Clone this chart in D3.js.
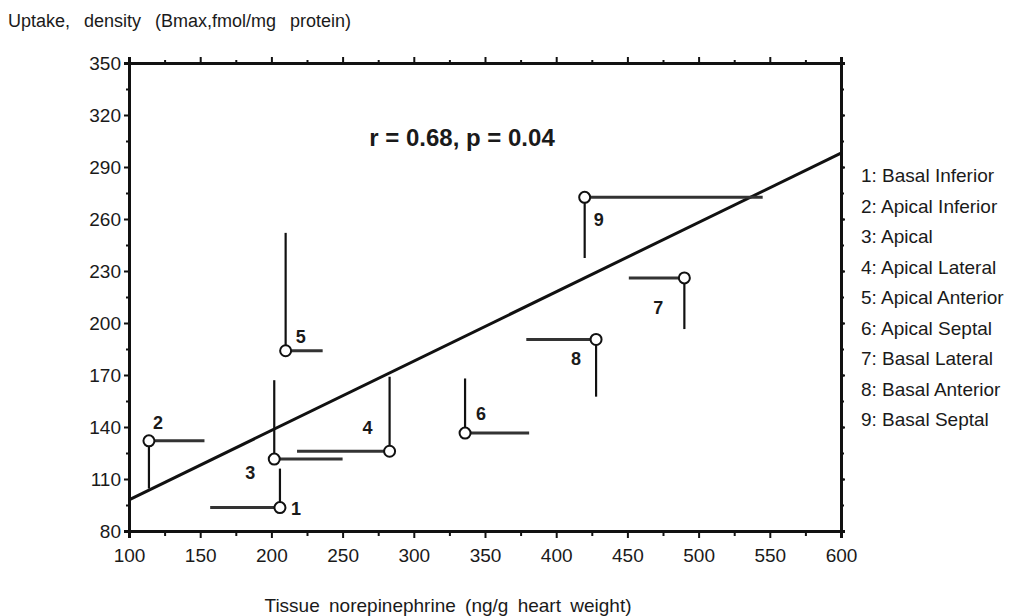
<!DOCTYPE html>
<html lang="en">
<head>
<meta charset="utf-8">
<script src="https://cdnjs.cloudflare.com/ajax/libs/d3/7.8.5/d3.min.js"></script>
<style>
body { margin: 0; background: #fff; }
svg text { font-family: "Liberation Sans", Arial, sans-serif; fill: #1a1a1a; }
</style>
</head>
<body>
<script>
// segment names, numbered 1..9
var segments = ["Basal Inferior", "Apical Inferior", "Apical", "Apical Lateral", "Apical Anterior",
                "Apical Septal", "Basal Lateral", "Basal Anterior", "Basal Septal"]
// tissue norepinephrine (ng/g)
var noreValues = [206, 114, 202, 283, 210, 336, 490, 428, 420]
// uptake density (fmol/mg)
var uptakeValues = [93.5, 132, 121.5, 126, 184, 136.5, 226, 190.5, 272.5]
// end of the one-sided error bars
var noreErrEnd = [157, 153, 250, 218, 236, 381, 451, 379, 545]
var uptakeErrEnd = [116, 104.5, 167, 169, 252, 168, 196.5, 157.5, 237.5]
// regression line end points
var fitX = [100, 600]
var fitY = [98, 298]
var xTicks = [100, 150, 200, 250, 300, 350, 400, 450, 500, 550, 600]
var yTicks = [80, 110, 140, 170, 200, 230, 260, 290, 320, 350]
var statText = "r = 0.68, p = 0.04"

// label offsets in px from the circle
var labelDx = [16, 9, -24, -22, 15, 16, -26, -20, 14]
var labelDy = [7, -12, 20, -17, -8, -13, 36, 26, 29]

var W = 1017, H = 616
var mLeft = 129, mRight = 841, mTop = 63, mBottom = 531

var svg = d3.select("body").append("svg")
    .attr("width", W)
    .attr("height", H)

var x = d3.scaleLinear().domain([100, 600]).range([mLeft, mRight])
var y = d3.scaleLinear().domain([80, 350]).range([mBottom, mTop])

function minor(lo, hi, step) {
    var out = []
    for (var v = lo; v <= hi + 1e-9; v += step) out.push(v)
    return out
}

// minor ticks
svg.append("g").attr("transform", "translate(0," + mBottom + ")")
    .call(d3.axisBottom(x).tickValues(minor(125, 575, 50)).tickSize(5).tickFormat(""))
svg.append("g").attr("transform", "translate(0," + mTop + ")")
    .call(d3.axisTop(x).tickValues(minor(125, 575, 50)).tickSize(3).tickFormat(""))
svg.append("g").attr("transform", "translate(" + mLeft + ",0)")
    .call(d3.axisLeft(y).tickValues(minor(95, 335, 30)).tickSize(3).tickFormat(""))
svg.append("g").attr("transform", "translate(" + mRight + ",0)")
    .call(d3.axisRight(y).tickValues(minor(95, 335, 15)).tickSize(3).tickFormat(""))

// major axes
var xAxis = svg.append("g").attr("transform", "translate(0," + mBottom + ")")
    .call(d3.axisBottom(x).tickValues(xTicks).tickSize(7).tickPadding(11).tickFormat(d3.format("d")))
var yAxis = svg.append("g").attr("transform", "translate(" + mLeft + ",0)")
    .call(d3.axisLeft(y).tickValues(yTicks).tickSize(5).tickPadding(3).tickFormat(d3.format("d")))
svg.append("g").attr("transform", "translate(0," + mTop + ")")
    .call(d3.axisTop(x).tickValues(xTicks).tickSize(6).tickFormat(""))
svg.append("g").attr("transform", "translate(" + mRight + ",0)")
    .call(d3.axisRight(y).tickValues(yTicks).tickSize(4).tickFormat(""))

svg.selectAll(".domain").attr("stroke", "#111").attr("stroke-width", 3)
svg.selectAll(".tick line").attr("stroke", "#111").attr("stroke-width", 2)
svg.selectAll(".tick text").attr("fill", "#1a1a1a")
    .style("font-family", "'Liberation Sans', Arial, sans-serif")
xAxis.selectAll(".tick text").attr("font-size", 19)
yAxis.selectAll(".tick text").attr("font-size", 19)

// axis titles
svg.append("text").attr("x", 8).attr("y", 27).attr("font-size", 18)
    .attr("word-spacing", 9)
    .text("Uptake, density (Bmax,fmol/mg  protein)")
svg.append("text").attr("x", 448).attr("y", 612)
    .attr("text-anchor", "middle").attr("font-size", 19)
    .attr("word-spacing", 4)
    .text("Tissue norepinephrine (ng/g  heart  weight)")

// regression line
svg.append("line")
    .attr("x1", x(fitX[0])).attr("y1", y(fitY[0]))
    .attr("x2", x(fitX[1])).attr("y2", y(fitY[1]))
    .attr("stroke", "#111").attr("stroke-width", 3)

var idx = d3.range(segments.length)

// horizontal error bars
svg.selectAll("line.xerr").data(idx).enter().append("line")
    .attr("class", "xerr")
    .attr("x1", function(i) { return x(noreValues[i]) })
    .attr("x2", function(i) { return x(noreErrEnd[i]) })
    .attr("y1", function(i) { return y(uptakeValues[i]) })
    .attr("y2", function(i) { return y(uptakeValues[i]) })
    .attr("stroke", "#333").attr("stroke-width", 3)

// vertical error bars
svg.selectAll("line.yerr").data(idx).enter().append("line")
    .attr("class", "yerr")
    .attr("x1", function(i) { return x(noreValues[i]) })
    .attr("x2", function(i) { return x(noreValues[i]) })
    .attr("y1", function(i) { return y(uptakeValues[i]) })
    .attr("y2", function(i) { return y(uptakeErrEnd[i]) })
    .attr("stroke", "#111").attr("stroke-width", 2.2)

// points
svg.selectAll("circle.pt").data(idx).enter().append("circle")
    .attr("class", "pt")
    .attr("cx", function(i) { return x(noreValues[i]) })
    .attr("cy", function(i) { return y(uptakeValues[i]) })
    .attr("r", 5.5)
    .attr("fill", "#fff").attr("stroke", "#111").attr("stroke-width", 2)

// point numbers
svg.selectAll("text.num").data(idx).enter().append("text")
    .attr("class", "num")
    .attr("x", function(i) { return x(noreValues[i]) + labelDx[i] })
    .attr("y", function(i) { return y(uptakeValues[i]) + labelDy[i] })
    .attr("text-anchor", "middle")
    .attr("font-size", 18).attr("font-weight", "bold")
    .text(function(i) { return i + 1 })

// correlation text
svg.append("text").attr("x", 462).attr("y", 146)
    .attr("text-anchor", "middle").attr("font-size", 24).attr("font-weight", "bold")
    .text(statText)

// legend
svg.selectAll("text.leg").data(idx).enter().append("text")
    .attr("class", "leg")
    .attr("x", 861)
    .attr("y", function(i) { return 182 + i * 30.5 })
    .attr("font-size", 19)
    .text(function(i) { return (i + 1) + ": " + segments[i] })
</script>
</body>
</html>
